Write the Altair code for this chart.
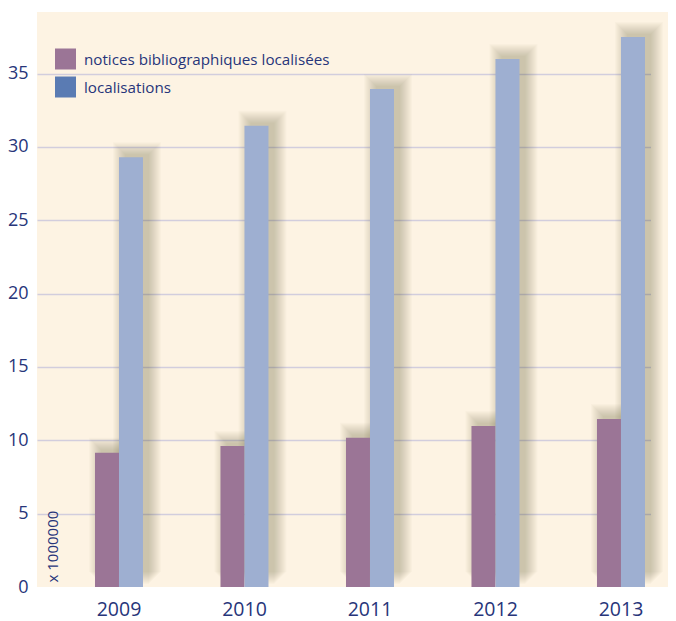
import altair as alt
import pandas as pd

years = ["2009", "2010", "2011", "2012", "2013"]
notices = [9.15, 9.62, 10.17, 10.98, 11.45]
localisations = [29.3, 31.45, 33.95, 36.0, 37.5]
series_names = ["notices bibliographiques localisées", "localisations"]
y_ticks = [0, 5, 10, 15, 20, 25, 30, 35]

NAVY = "#27357a"
PURPLE = "#9b7596"
BLUE_BAR = "#9eafd1"
BLUE_LEG = "#5a7bb3"
CREAM = "#fdf3e3"
GRID = "#d2cddd"
SHADOW = "#5e4c32"
FONT = "Open Sans"

df = pd.DataFrame({"year": years, "notices": notices, "localisations": localisations})

W, H = 614, 575

xscale = alt.Scale(paddingInner=0.6175, paddingOuter=0.255, align=0.906)
yscale = alt.Scale(domain=[0, 39.2], nice=False)

x_enc = alt.X(
    "year:N", scale=xscale, sort=years,
    axis=alt.Axis(title=None, labelAngle=0, labelFontSize=19.5, labelColor=NAVY,
                  labelFont=FONT, labelPadding=13, ticks=False, domain=False, grid=False),
)

yaxis = alt.Axis(
    values=y_ticks, title="x 1000000", titleAngle=270, titleX=20, titleY=570,
    titleAlign="left", titleBaseline="alphabetic", titleFontSize=15,
    titleFontWeight="normal", titleColor=NAVY, titleFont=FONT,
    labelFontSize=18, labelColor=NAVY, labelFont=FONT, labelPadding=9,
    ticks=False, domain=False, gridWidth=1.5,
    gridColor={"condition": {"test": "datum.value === 0", "value": "transparent"}, "value": GRID},
)

base = alt.Chart(df)

layers = []
# soft shadows
for field, off in [("notices", -12), ("localisations", 12)]:
    for s in range(0, 13):
        layers.append(
            base.mark_bar(color=SHADOW, opacity=0.022, width=24 + 2 * s,
                          xOffset=off + 6, yOffset=-(3 + s)).encode(
                x=x_enc,
                y=alt.Y(f"{field}:Q", scale=yscale, axis=yaxis),
            )
        )

layers.append(
    base.mark_bar(color=PURPLE, width=24, xOffset=-12).encode(
        x=x_enc, y=alt.Y("notices:Q", scale=yscale, axis=yaxis)
    )
)
layers.append(
    base.mark_bar(color=BLUE_BAR, width=24, xOffset=12).encode(
        x=x_enc, y=alt.Y("localisations:Q", scale=yscale, axis=yaxis)
    )
)

# cream strip to the right of the plot area
strip = alt.Chart(pd.DataFrame({"a": [0]})).mark_rect(color=CREAM).encode(
    x=alt.value(W), x2=alt.value(W + 17), y=alt.value(0), y2=alt.value(H)
)

# manual legend
leg_sq = []
leg_tx = []
for i, (lab, col) in enumerate(zip(series_names, [PURPLE, BLUE_LEG])):
    d = pd.DataFrame({"label": [lab]})
    leg_sq.append(alt.Chart(d).mark_square(color=col, size=441, opacity=1).encode(
        x=alt.value(28.5), y=alt.value(47 + 28 * i)))
    leg_tx.append(alt.Chart(d).mark_text(align="left", baseline="middle", fontSize=15.2,
                                         font=FONT, color=NAVY).encode(
        x=alt.value(47), y=alt.value(48 + 28 * i), text="label:N"))

chart = alt.layer(strip, *layers, *leg_sq, *leg_tx).properties(
    width=W, height=H,
    autosize=alt.AutoSizeParams(type="none"),
    padding={"left": 29, "top": 4, "right": 17, "bottom": 34},
    background="white",
).configure_view(fill=CREAM, stroke=None)

chart.save("out.html", embed_options={"renderer": "svg", "actions": False})
